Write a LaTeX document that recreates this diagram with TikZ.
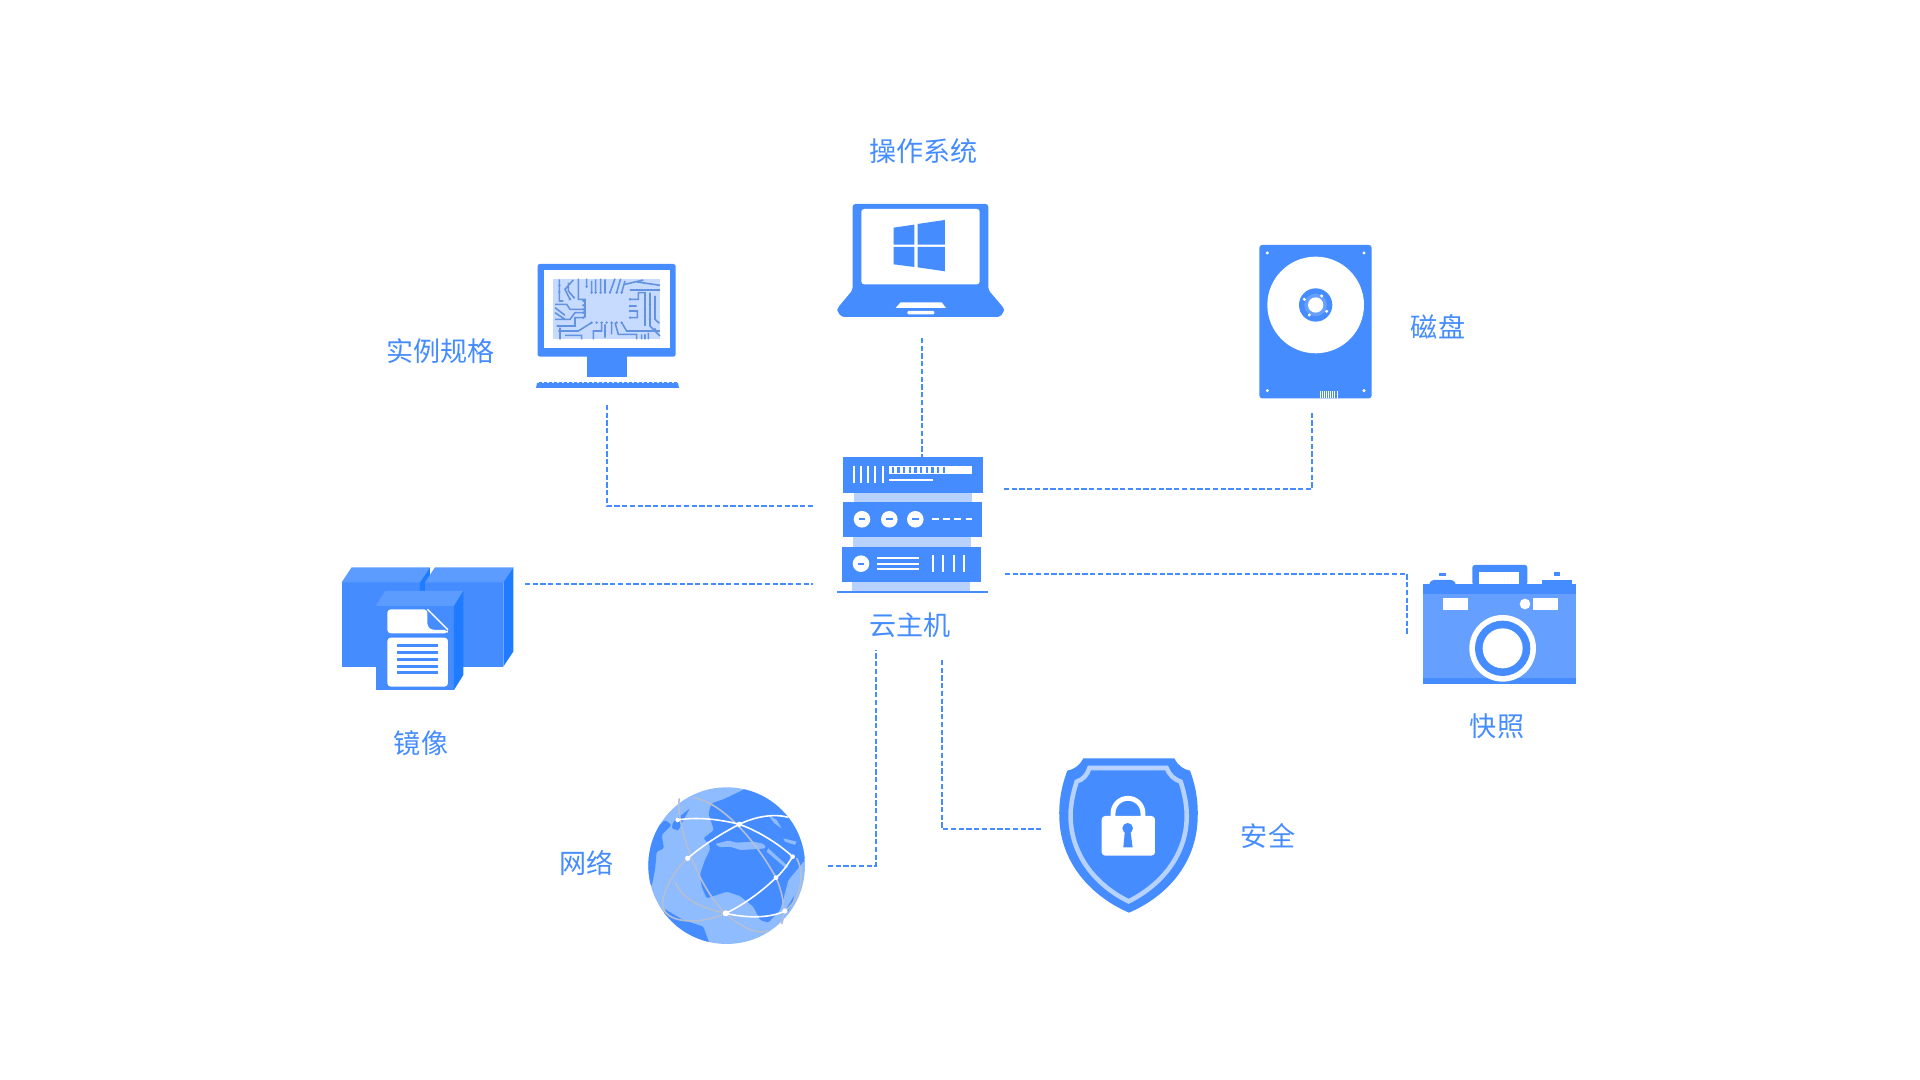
\documentclass[tikz,border=0pt]{standalone}
\usepackage{fontspec}
\setmainfont{Noto Sans CJK SC}
\usepackage{xcolor}
\usetikzlibrary{calc}
\definecolor{iconblue}{HTML}{448CFF}
\definecolor{iconpale}{HTML}{B7D2FF}
\definecolor{boxtop}{HTML}{5C9BFF}
\definecolor{boxside}{HTML}{1F7BFF}
\definecolor{chipbg}{HTML}{C6DBFF}
\definecolor{chipwire}{HTML}{6392E0}
\definecolor{globebg}{HTML}{8FBBFF}
\definecolor{camerabody}{HTML}{659FFF}
\definecolor{routegray}{HTML}{B4BFD2}
\tikzset{
	label/.style={text=iconblue, font=\fontsize{7.7pt}{9pt}\selectfont, inner sep=0pt},
	link/.style={iconblue, line width=0.55pt, dash pattern=on 1.5pt off 0.7pt},
	wire/.style={chipwire, line width=0.45pt},
	route/.style={white, line width=0.45pt},
	graytrack/.style={routegray, line width=0.45pt}
}
\newcommand{\srvDisc}[2]{%
	\fill[white] (#1,#2) circle (8.3);
	\fill[iconblue] ({#1-3.2},{#2-1}) rectangle ({#1+3.2},{#2+1});}
\newcommand{\boxFaces}[5]{%
	\fill[iconblue] (#1,#3) rectangle (#2,#4);
	\fill[boxtop] (#1,#3) -- ++(#5,-45) -- ({#2+#5},{#3-45}) -- (#2,#3) -- cycle;
	\fill[boxside] (#2,#3) -- ++(#5,-45) -- ({#2+#5},{#4-45}) -- (#2,#4) -- cycle;}
\begin{document}
\begin{tikzpicture}[x=0.01cm,y=-0.01cm]
	\useasboundingbox (0,0) rectangle (1920,1080);
	% labels
	\node[label] (osLabel) at (923.5,151) {操作系统};
	\node[label] (specLabel) at (440.5,351) {实例规格};
	\node[label] (diskLabel) at (1438,327) {磁盘};
	\node[label] (hostLabel) at (910,625.5) {云主机};
	\node[label] (imageLabel) at (421,743) {镜像};
	\node[label] (snapLabel) at (1497,726) {快照};
	\node[label] (netLabel) at (586.5,863) {网络};
	\node[label] (safeLabel) at (1268,836) {安全};
	% connector ends
	\coordinate (specEnd) at (607,405);
	\coordinate (hostW) at (814,506);
	\coordinate (osEnd) at (922,338);
	\coordinate (hostN) at (922,458);
	\coordinate (hostE) at (1004,489);
	\coordinate (diskEnd) at (1312,411);
	\coordinate (imageEnd) at (525,584);
	\coordinate (hostSW) at (813,584);
	\coordinate (hostSE) at (1005,574);
	\coordinate (snapEnd) at (1407,634);
	\coordinate (netEnd) at (828,866);
	\coordinate (hostS) at (876,650);
	\coordinate (hostT) at (942,660);
	\coordinate (safeEnd) at (1042,829);
	\draw[link] (specEnd) |- (hostW);
	\draw[link] (osEnd) -- (hostN);
	\draw[link] (hostE) -| (diskEnd);
	\draw[link] (imageEnd) -- (hostSW);
	\draw[link] (hostSE) -| (snapEnd);
	\draw[link] (netEnd) -| (hostS);
	\draw[link] (hostT) |- (safeEnd);
	% server
	\fill[iconpale] (854,492) rectangle (972,503);
	\fill[iconpale] (853,537) rectangle (971,548);
	\fill[iconpale] (852,581) rectangle (970,591);
	\fill[iconblue] (843.3,457.3) rectangle (982.7,492.7);
	\fill[iconblue] (843,502.3) rectangle (981.7,537.3);
	\fill[iconblue] (842.3,547) rectangle (981.3,581.7);
	\fill[iconblue] (836.7,591) rectangle (988,593.5);
	\foreach \x in {854,861,868,875.3,882.7}
		\fill[white] ({\x-1},465.7) rectangle ({\x+1},482.7);
	\fill[white] (889.3,465.7) rectangle (971.7,474.3);
	\foreach \i in {0,...,9}
		\fill[iconblue] ({891.5+\i*5.67},467.3) rectangle ({894+\i*5.67},472.7);
	\fill[white] (889.3,479.3) rectangle (933.3,481.3);
	\srvDisc{862}{519.3}
	\srvDisc{889.3}{519.3}
	\srvDisc{915.3}{519.3}
	\foreach \x in {932,943.3,954.3,965.7}
		\fill[white] (\x,517.7) rectangle ({\x+6.5},519.7);
	\srvDisc{861}{563.7}
	\foreach \y in {558.3,563.7,569.3}
		\fill[white] (876.7,{\y-1}) rectangle (919.3,{\y+1});
	\foreach \x in {932.7,943,953.7,964.3}
		\fill[white] ({\x-1},555) rectangle ({\x+1},572.3);
	% monitor
	\fill[iconblue,rounded corners=0.7pt] (537.5,264) rectangle (675.7,356.7);
	\fill[white] (544,270) rectangle (670,348);
	\fill[iconblue] (586.7,356) rectangle (627.3,376.7);
	\fill[iconblue] (536,388) -- (537,383) -- (678,383) -- (679,388) -- cycle;
	\foreach \i in {0,...,27}
		\fill[iconblue] ({538.5+\i*5},381.8) rectangle ({541.5+\i*5},384);
	\begin{scope}[shift={(550,276)},scale=0.3333]
		\fill[chipbg] (10,8) rectangle (330,190);
		\draw[wire] (28,10) -- (28,75) -- (40,75)
			(70,12) -- (45,40) -- (60,70) (55,20) -- (55,45) -- (72,65)
			(85,8) -- (85,70) -- (105,70) -- (105,125)
			(110,8) -- (110,32)
			(125,15) -- (125,50) (137,10) -- (137,50) (152,8) -- (152,50)
			(165,10) -- (165,50) (195,8) -- (180,50) (212,8) -- (200,50) (225,15) -- (215,50)
			(225,25) -- (280,12) (240,42) -- (330,42) (262,18) -- (330,28)
			(15,85) -- (50,85) -- (60,100) -- (100,100)
			(15,110) -- (45,130) (15,95) -- (45,118)
			(15,130) -- (60,130) -- (75,110) -- (100,110)
			(20,150) -- (75,150) -- (75,125) -- (100,125)
			(25,165) -- (85,165) -- (125,140)
			(45,178) -- (95,178) -- (95,190) (30,155) -- (30,190)
			(130,190) -- (130,165) -- (155,165) -- (155,140)
			(165,185) -- (165,145) (185,140) -- (185,175)
			(195,140) -- (205,175) -- (260,175) -- (260,190)
			(215,140) -- (230,165) -- (330,165)
			(240,70) -- (265,70) -- (265,50) -- (285,50) -- (285,150)
			(240,90) -- (260,90) (240,105) -- (262,105) -- (262,125) -- (240,125)
			(300,50) -- (300,150) -- (330,180)
			(315,60) -- (315,130) -- (328,142)
			(275,175) -- (275,190) (285,175) -- (285,190) (295,170) -- (295,190);
		\foreach \x/\y in {28/28,28/48,72/65,60/70,110/32,125/50,137/50,152/50,165/50,180/50,200/50,215/50,
			100/75,100/88,100/100,100/110,100/125,125/140,140/140,155/140,170/140,185/140,200/140,215/140,
			240/70,240/90,240/105,240/125,285/70,285/100,285/120,300/85,300/130,25/150,30/165,315/160,165/165}
			\fill[chipwire] (\x,\y) circle (4);
	\end{scope}
	% laptop
	\begin{scope}[shift={(830,195)},scale=0.3333]
		\fill[iconblue,rounded corners=0.8pt] (68,285) -- (68,27) -- (475,27) -- (475,285) -- (522,340) -- (522,350) -- (510,366) -- (35,366) -- (22,350) -- (22,340) -- cycle;
		\fill[white,rounded corners=0.8pt] (94,42) rectangle (449,268);
		\fill[iconblue] (191,98) -- (253,89) -- (253,149) -- (191,149) -- cycle;
		\fill[iconblue] (263,87) -- (345,75) -- (345,149) -- (263,149) -- cycle;
		\fill[iconblue] (191,156) -- (253,156) -- (253,216) -- (191,208) -- cycle;
		\fill[iconblue] (263,156) -- (345,156) -- (345,229) -- (263,217) -- cycle;
		\fill[white] (212,322) -- (335,322) -- (348,339) -- (197,339) -- cycle;
		\fill[white,rounded corners=0.3pt] (232,348) rectangle (313,358);
	\end{scope}
	% disk
	\begin{scope}[shift={(1250,235)},scale=0.3333]
		\fill[iconblue,rounded corners=0.8pt] (28,30) rectangle (365,490);
		\fill[white] (197,210) circle (145);
		\fill[iconblue] (197,210) circle (50);
		\fill[camerabody] (197,210) circle (34);
		\fill[white] (197,210) circle (23);
		\foreach \x/\y in {163/193,215/183,230/229,178/240,52/54,342/54,52/467,342/467}
			\fill[white] (\x,\y) circle (5);
		\foreach \i in {0,...,8}
			\fill[white] ({210+\i*6.2},468) rectangle ({213+\i*6.2},490);
	\end{scope}
	% image boxes
	\begin{scope}[shift={(330,550)},scale=0.3333]
		\boxFaces{35}{270}{97}{350}{30}
		\boxFaces{285}{520}{97}{350}{30}
		\boxFaces{137}{372}{168}{420}{28}
		\fill[white,rounded corners=1pt] (172,250) -- (172,178) -- (292,178) -- (292,230) -- (305,240) -- (354,240) -- (354,250) -- cycle;
		\fill[white,rounded corners=1pt] (172,263) -- (172,410) -- (354,410) -- (354,263) -- cycle;
		\draw[white,line width=0.4pt] (292,178) -- (354,240);
		\foreach \y in {286,307,328,349,369}
			\fill[iconblue] (201,{\y-4.5}) rectangle (325,{\y+4.5});
	\end{scope}
	% camera
	\begin{scope}[shift={(1410,555)},scale=0.3333]
		\fill[camerabody] (40,88) rectangle (498,388);
		\fill[iconblue] (40,88) rectangle (498,116);
		\fill[iconblue] (40,370) rectangle (498,388);
		\fill[iconblue,rounded corners=0.7pt] (187,90) -- (187,30) -- (352,30) -- (352,90) -- cycle;
		\fill[white] (208,52) rectangle (328,88);
		\fill[iconblue,rounded corners=0.7pt] (55,90) -- (65,75) -- (130,75) -- (140,90) -- cycle;
		\fill[iconblue] (395,90) -- (395,76) -- (485,76) -- (485,90) -- cycle;
		\fill[iconblue] (88,54) rectangle (107,64);
		\fill[iconblue] (432,52) rectangle (451,62);
		\fill[white] (98,128) rectangle (173,165);
		\fill[white] (368,128) rectangle (444,165);
		\fill[white] (345,147) circle (16);
		\fill[white] (278,280) circle (100);
		\fill[iconblue] (278,280) circle (83);
		\fill[white] (278,280) circle (60);
	\end{scope}
	% shield
	\begin{scope}[shift={(1050,750)},scale=0.3333]
		\fill[iconblue] (100,25) -- (373,25) .. controls (385,48) and (400,58) .. (420,62)
			.. controls (438,110) and (445,155) .. (443,205)
			.. controls (440,340) and (350,440) .. (237,488)
			.. controls (125,440) and (32,340) .. (28,205)
			.. controls (26,155) and (34,110) .. (52,62)
			.. controls (72,58) and (88,48) .. (100,25) -- cycle;
		\draw[iconpale,line width=1.3pt] (118,54) -- (350,54) .. controls (358,75) and (372,88) .. (392,95)
			.. controls (405,135) and (412,175) .. (410,210)
			.. controls (405,325) and (325,410) .. (236,454)
			.. controls (145,410) and (68,325) .. (62,210)
			.. controls (60,175) and (67,135) .. (80,95)
			.. controls (100,88) and (112,75) .. (118,54) -- cycle;
		\draw[white,line width=1.4pt] (189,200) -- (189,190) arc[start angle=180,end angle=360,x radius=45,y radius=45] -- (279,200);
		\fill[white,rounded corners=1pt] (155,198) rectangle (315,317);
		\fill[iconblue] (233,235) circle (16);
		\fill[iconblue] (225,240) -- (241,240) -- (248,292) -- (220,292) -- cycle;
	\end{scope}
	% globe
	\begin{scope}[shift={(640,770)},scale=0.3333]
		\fill[globebg] (260,287) circle (235);
		\begin{scope}
			\clip (260,287) circle (235);
			\fill[iconblue,rounded corners=0.4pt] (215,100) -- (250,88) -- (320,55) -- (420,85) -- (500,230) -- (495,270) -- (445,330) -- (432,380) -- (420,420) -- (385,458) -- (360,450) -- (340,410) -- (300,378) -- (260,365) -- (200,385) -- (185,350) -- (180,315) -- (195,270) -- (210,240) -- (208,222) -- (190,205) -- (222,180) -- (205,130) -- cycle;
			\fill[globebg,rounded corners=0.4pt] (225,222) -- (265,212) -- (290,218) -- (340,215) -- (372,222) -- (378,235) -- (340,238) -- (300,240) -- (270,230) -- (240,232) -- cycle;
			\fill[globebg] (385,135) -- (410,150) -- (425,175) -- (403,160) -- cycle;
			\fill[globebg] (385,235) -- (445,290) -- (438,295) -- (380,245) -- cycle;
			\fill[globebg] (430,205) -- (470,215) -- (465,225) -- (435,215) -- cycle;
			\fill[iconblue] (440,415) -- (462,378) -- (458,400) -- (440,430) -- cycle;
			\fill[iconblue,rounded corners=0.4pt] (75,150) -- (95,165) -- (65,195) -- (72,235) -- (50,245) -- (45,300) -- (35,350) -- (15,300) -- (25,200) -- cycle;
			\fill[iconblue,rounded corners=0.4pt] (100,155) -- (150,115) -- (130,150) -- (115,182) -- (95,175) -- cycle;
			\fill[iconblue,rounded corners=0.4pt] (70,415) -- (130,450) -- (190,470) -- (210,525) -- (150,515) -- (80,460) -- cycle;
		\end{scope}
		\draw[graytrack] (118,85) .. controls (105,150) and (170,350) .. (257,430) .. controls (300,470) and (350,495) .. (385,483);
		\draw[graytrack] (160,83) .. controls (240,95) and (340,200) .. (408,323) .. controls (425,360) and (440,420) .. (425,462);
		\draw[graytrack] (143,265) .. controls (95,310) and (60,380) .. (70,415) .. controls (85,460) and (180,465) .. (257,430);
		\draw[graytrack] (105,335) .. controls (125,390) and (190,415) .. (257,430);
		\draw[graytrack] (470,265) .. controls (495,310) and (485,385) .. (435,423);
		\draw[route] (113,150) .. controls (170,140) and (240,148) .. (298,163) .. controls (360,185) and (420,225) .. (458,260);
		\draw[route] (143,265) .. controls (190,225) and (245,190) .. (298,163) .. controls (345,140) and (400,130) .. (445,142);
		\draw[route] (257,430) .. controls (310,405) and (365,365) .. (408,323) .. controls (430,305) and (445,280) .. (458,260);
		\draw[route] (257,430) .. controls (320,445) and (390,445) .. (435,423);
		\foreach \x/\y/\r in {113/150/7,143/265/8,298/163/8,458/260/7,408/323/7,257/430/9,435/423/8}
			\fill[white] (\x,\y) circle (\r);
	\end{scope}
\end{tikzpicture}
\end{document}
